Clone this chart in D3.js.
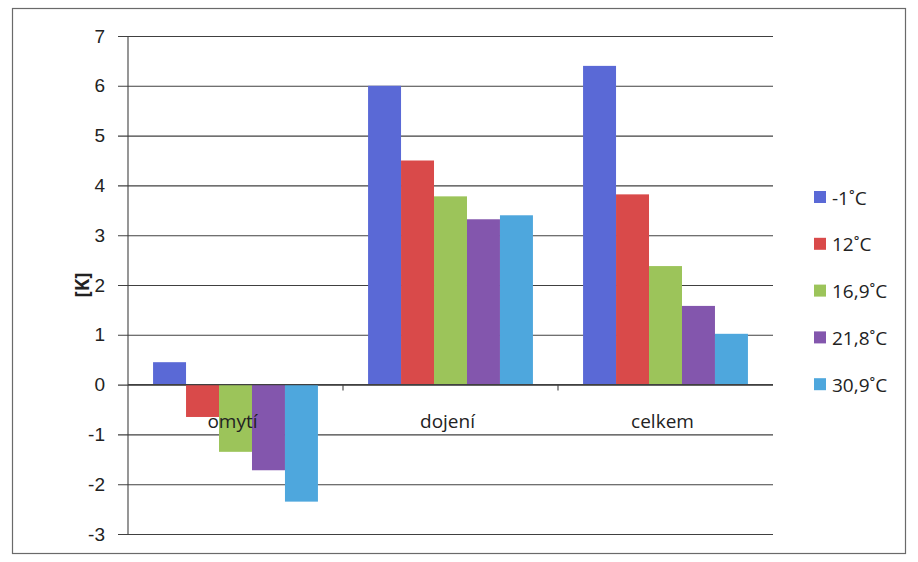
<!DOCTYPE html>
<html>
<head>
<meta charset="utf-8">
<script src="https://cdn.jsdelivr.net/npm/d3@7/dist/d3.min.js"></script>
<style>
  html, body { margin: 0; padding: 0; background: #fff; }
  svg { display: block; font-family: "Open Sans", "Noto Sans", sans-serif; }
</style>
</head>
<body>
<svg id="chart" width="918" height="562"></svg>
<script>
// Temperature difference [K] per phase and ambient temperature
const categories = ["omytí", "dojení", "celkem"];
const seriesNames = ["-1˚C", "12˚C", "16,9˚C", "21,8˚C", "30,9˚C"];
const seriesColors = ["#5a69d6", "#d94a4a", "#9cc45a", "#8356ad", "#4ea7dd"];
const valuesMinus1 = [0.45, 6.0, 6.4];
const values12 = [-0.65, 4.5, 3.82];
const values169 = [-1.35, 3.78, 2.38];
const values218 = [-1.72, 3.32, 1.58];
const values309 = [-2.35, 3.4, 1.02];
const yTicks = [-3, -2, -1, 0, 1, 2, 3, 4, 5, 6, 7];

const series = [valuesMinus1, values12, values169, values218, values309];

const svg = d3.select("#chart");
const plot = { left: 128, right: 773, top: 36, bottom: 534 };

// outer frame
svg.append("rect")
  .attr("x", 12.5).attr("y", 8.5)
  .attr("width", 893).attr("height", 545)
  .attr("fill", "#fff").attr("stroke", "#6a6a6a").attr("stroke-width", 1.2);

const y = d3.scaleLinear().domain([-3, 7]).range([plot.bottom, plot.top]);
const x0 = d3.scaleBand().domain(categories).range([plot.left, plot.right]).paddingInner(0).paddingOuter(0);
const x1 = d3.scaleBand().domain(d3.range(seriesNames.length))
  .range([0, x0.bandwidth()]).paddingInner(0).paddingOuter(0.76);

// gridlines with ticks to the left
const yAxis = d3.axisLeft(y).tickValues(yTicks).tickSize(-(plot.right - plot.left + 10)).tickSizeOuter(0)
  .tickFormat(d => d < 0 ? "-" + Math.abs(d) : d);
const gy = svg.append("g").attr("transform", `translate(${plot.left - 10},0)`).call(yAxis);
gy.select(".domain").remove();
gy.selectAll(".tick line").attr("stroke", "#404040").attr("stroke-width", 1.1);
gy.selectAll(".tick text").attr("x", -13).attr("fill", "#222").style("font-size", "19px");

// vertical axis line
svg.append("line")
  .attr("x1", plot.left).attr("x2", plot.left)
  .attr("y1", plot.top).attr("y2", plot.bottom)
  .attr("stroke", "#404040").attr("stroke-width", 1.1);

// bars
const groups = svg.append("g").selectAll("g")
  .data(categories).join("g")
  .attr("transform", d => `translate(${x0(d)},0)`);

groups.selectAll("rect")
  .data((c, ci) => series.map((s, si) => ({ si, v: s[ci] })))
  .join("rect")
  .attr("x", d => x1(d.si))
  .attr("width", x1.bandwidth())
  .attr("y", d => y(Math.max(0, d.v)))
  .attr("height", d => Math.abs(y(d.v) - y(0)))
  .attr("fill", d => seriesColors[d.si]);

// category axis at zero
svg.append("line")
  .attr("x1", plot.left).attr("x2", plot.right)
  .attr("y1", y(0)).attr("y2", y(0))
  .attr("stroke", "#404040").attr("stroke-width", 1.1);
categories.forEach((c, i) => {
  if (i > 0) {
    svg.append("line")
      .attr("x1", x0(c)).attr("x2", x0(c))
      .attr("y1", y(0)).attr("y2", y(0) + 6)
      .attr("stroke", "#404040").attr("stroke-width", 1.1);
  }
});
svg.append("g").selectAll("text")
  .data(categories).join("text")
  .attr("x", d => x0(d) + x0.bandwidth() / 2 - 3)
  .attr("y", y(0) + 43)
  .attr("text-anchor", "middle")
  .attr("fill", "#222")
  .style("font-size", "19px")
  .text(d => d);

// axis title
svg.append("text")
  .attr("transform", `translate(89,${y(2)}) rotate(-90)`)
  .attr("text-anchor", "middle")
  .attr("fill", "#222")
  .style("font-size", "19px")
  .style("font-weight", "bold")
  .text("[K]");

// legend
const legend = svg.append("g").attr("transform", "translate(814,198)");
const rows = legend.selectAll("g").data(seriesNames).join("g")
  .attr("transform", (d, i) => `translate(0,${i * 46.8})`);
rows.append("rect")
  .attr("x", 0).attr("y", -7).attr("width", 12).attr("height", 12)
  .attr("fill", (d, i) => seriesColors[i]);
rows.append("text")
  .attr("x", 18).attr("y", 6.5)
  .attr("fill", "#222")
  .style("font-size", "19px")
  .text(d => d);
</script>
</body>
</html>
